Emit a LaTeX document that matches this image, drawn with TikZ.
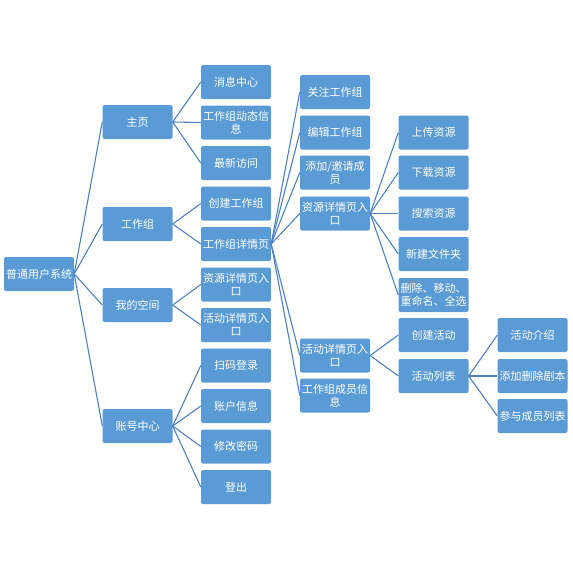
\documentclass[tikz,border=0pt]{standalone}
\usepackage{fontspec}
\setmainfont{Noto Sans CJK SC}
\usepackage{tikz}
\definecolor{mmBox}{HTML}{5B9BD5}
\definecolor{mmLine}{HTML}{4F81BD}
\tikzset{mm/.style={fill=mmBox,text=white,rounded corners=2pt,minimum width=70pt,minimum height=34pt,inner sep=0pt,align=center,font=\fontsize{11}{13}\selectfont},
  mmln/.style={draw=mmLine,line width=1.1pt}}

\begin{document}
\begin{tikzpicture}[x=1pt,y=-1pt]
\useasboundingbox (0,0) rectangle (573,568);
\def\xa{39}\def\xb{137.5}\def\xc{236}\def\xd{335}\def\xe{433.5}\def\xf{532.5}
% root + first level
\node[mm](root) at (\xa,274){普通用户系统};
\node[mm](home) at (\xb,122){主页};
\node[mm](group) at (\xb,224){工作组};
\node[mm](space) at (\xb,305){我的空间};
\node[mm](acct) at (\xb,426){账号中心};
% second level
\node[mm](msg) at (\xc,82){消息中心};
\node[mm](feed) at (\xc,122.5){工作组动态信\\息};
\node[mm](recent) at (\xc,163){最新访问};
\node[mm](newgrp) at (\xc,203.5){创建工作组};
\node[mm](grpdet) at (\xc,244){工作组详情页};
\node[mm](resent) at (\xc,284.5){资源详情页入\\口};
\node[mm](actent) at (\xc,325){活动详情页入\\口};
\node[mm](scan) at (\xc,365.5){扫码登录};
\node[mm](info) at (\xc,406){账户信息};
\node[mm](pwd) at (\xc,446.5){修改密码};
\node[mm](logout) at (\xc,487){登出};
% third level
\node[mm](follow) at (\xd,92){关注工作组};
\node[mm](editgrp) at (\xd,132.5){编辑工作组};
\node[mm](invite) at (\xd,172.5){添加/邀请成\\员};
\node[mm](resdet) at (\xd,213.5){资源详情页入\\口};
\node[mm](actdet) at (\xd,355.5){活动详情页入\\口};
\node[mm](members) at (\xd,395.5){工作组成员信\\息};
% fourth level
\node[mm](upload) at (\xe,132.5){上传资源};
\node[mm](download) at (\xe,172.5){下载资源};
\node[mm](search) at (\xe,213.5){搜索资源};
\node[mm](newdir) at (\xe,254){新建文件夹};
\node[mm](fileops) at (\xe,295){删除、移动、\\重命名、全选};
\node[mm](newact) at (\xe,335){创建活动};
\node[mm](actlist) at (\xe,376){活动列表};
% fifth level
\node[mm](actintro) at (\xf,335){活动介绍};
\node[mm](script) at (\xf,376){添加删除剧本};
\node[mm](joinlist) at (\xf,416){参与成员列表};
% links
\foreach \c in {home,group,space,acct} \draw[mmln](root.east)--(\c.west);
\foreach \c in {msg,feed,recent} \draw[mmln](home.east)--(\c.west);
\foreach \c in {newgrp,grpdet} \draw[mmln](group.east)--(\c.west);
\foreach \c in {resent,actent} \draw[mmln](space.east)--(\c.west);
\foreach \c in {scan,info,pwd,logout} \draw[mmln](acct.east)--(\c.west);
\foreach \c in {follow,editgrp,invite,resdet,actdet,members} \draw[mmln](grpdet.east)--(\c.west);
\foreach \c in {upload,download,search,newdir,fileops} \draw[mmln](resdet.east)--(\c.west);
\foreach \c in {newact,actlist} \draw[mmln](actdet.east)--(\c.west);
\foreach \c in {actintro,script,joinlist} \draw[mmln](actlist.east)--(\c.west);
\end{tikzpicture}
\end{document}
